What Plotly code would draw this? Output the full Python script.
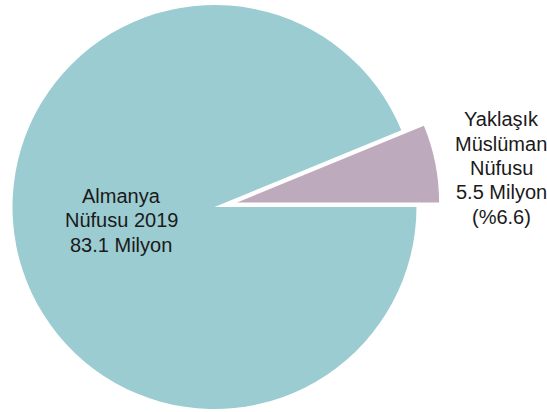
import numpy as np
import plotly.graph_objects as go

# ---- data ----
categories = ["Almanya Nüfusu 2019", "Yaklaşık Müslüman Nüfusu"]
values = [83.1, 5.5]           # milyon
colors = ["#9BCCD1", "#BEAABD"]
label_big = ["Almanya", "Nüfusu 2019", "83.1 Milyon"]
label_small = ["Yaklaşık", "Müslüman", "Nüfusu", "5.5 Milyon", "(%6.6)"]

# ---- layout geometry ----
W, H = 547, 412
cx, cy = 214.5, 207.0      # pie centre, screen px
R = 202.0                  # pie radius px
pull = 0.114               # pull of the small slice (fraction of radius)

share_small = values[1] / sum(values)
bis = np.deg2rad(share_small * 360 / 2)
dx = pull * R * np.cos(bis)
dy = pull * R * np.sin(bis)


def domain(px, py):
    pyp = H - py
    return dict(x=[(px - R) / W, (px + R) / W], y=[(pyp - R) / H, (pyp + R) / H])


fig = go.Figure()
fig.add_trace(go.Pie(
    labels=categories, values=values, sort=False, direction="clockwise", rotation=90,
    marker=dict(colors=[colors[0], "rgba(0,0,0,0)"], line=dict(width=0)),
    textinfo="none", hoverinfo="skip", showlegend=False,
    domain=domain(cx, cy),
))
fig.add_trace(go.Pie(
    labels=categories, values=values, sort=False, direction="clockwise", rotation=90,
    marker=dict(colors=["rgba(0,0,0,0)", colors[1]], line=dict(width=0)),
    textinfo="none", hoverinfo="skip", showlegend=False,
    domain=domain(cx + dx, cy - dy),
))

font = dict(family="Liberation Sans, Arial, sans-serif", size=20, color="#1a1a1a")
spacing = 24.4
annotations = []
for lines, (ax, ay) in [(label_big, (121, 220.5)), (label_small, (501, 168.0))]:
    n = len(lines)
    for i, t in enumerate(lines):
        yy = ay + (i - (n - 1) / 2) * spacing
        annotations.append(dict(
            text=t, x=ax / W, y=(H - yy) / H, xref="paper", yref="paper",
            xanchor="center", yanchor="middle", showarrow=False, font=font,
        ))

fig.update_layout(
    width=W, height=H, margin=dict(l=0, r=0, t=0, b=0),
    paper_bgcolor="white", plot_bgcolor="white",
    annotations=annotations, showlegend=False,
)
fig.write_html("out.html")
